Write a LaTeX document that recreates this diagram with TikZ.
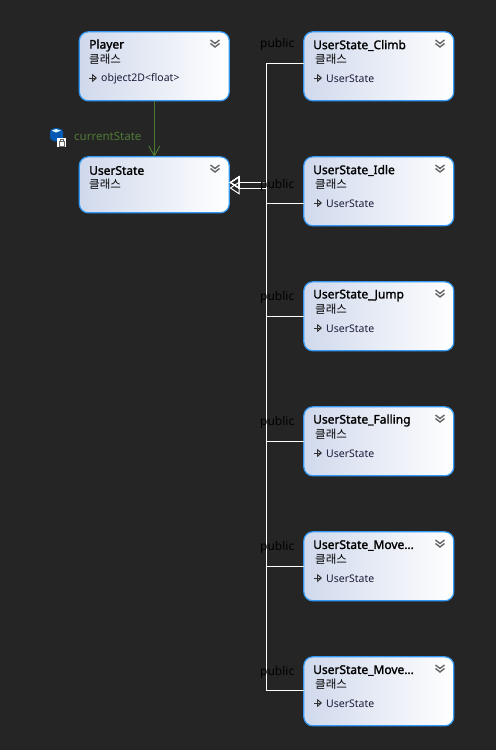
\documentclass[tikz,border=0pt]{standalone}
\usepackage{fontspec}
\setmainfont{Noto Sans}
\newfontfamily\kofont{Noto Sans CJK KR}
\newfontfamily\titlefont[FakeBold=1.6]{Noto Sans}
\usetikzlibrary{arrows.meta}
\definecolor{diagrambg}{HTML}{252525}
\definecolor{boxleft}{HTML}{D0D9EC}
\definecolor{boxedge}{HTML}{3399F5}
\definecolor{assocgreen}{HTML}{4F7A35}
\definecolor{basetext}{HTML}{1B1B3A}
\tikzset{
  classbox/.style={draw=boxedge,line width=1.2pt,rounded corners=9pt,left color=boxleft,right color=white,minimum width=150pt,inner sep=0pt,outer sep=0pt,anchor=north west},
  titletext/.style={anchor=west,inner sep=0pt,text=black,font=\titlefont\fontsize{12}{14}\selectfont},
  kindtext/.style={anchor=west,inner sep=0pt,text=black,font=\kofont\fontsize{11.5}{13}\selectfont},
  basetxt/.style={anchor=west,inner sep=0pt,text=basetext,font=\fontsize{10.5}{12}\selectfont},
  publictext/.style={anchor=west,inner sep=0pt,text=black,font=\fontsize{12}{14}\selectfont},
  inherit/.style={draw=white,line width=1pt,-{Triangle[open,length=10pt,width=13pt]}},
  chevrons/.pic={
    \draw[black!60,line width=1.4pt] (-4.5,-3.5)--(0,0)--(4.5,-3.5);
    \draw[black!60,line width=1.4pt] (-4.5,0)--(0,3.5)--(4.5,0);
  },
  basemark/.pic={
    \draw[black!80,line width=1pt,-{Straight Barb[length=4pt,width=7pt]}] (-4,0)--(4,0);
    \draw[black!80,line width=.8pt] (-1,-3)--(-1,3);
  },
}
\begin{document}
\begin{tikzpicture}[x=1pt,y=-1pt]
\fill[diagrambg] (0,0) rectangle (496,750);
\useasboundingbox (0,0) rectangle (496,750);
% left column
\node[classbox,minimum height=69pt] (Player) at (79.3,31.8) {};
\node[titletext] (PlayerTitle) at (89,45.5) {Player};
\node[kindtext] (PlayerKind) at (89,59) {클래스};
\node[basetxt] (PlayerBase) at (101,79) {object2D<float>};
\pic at (93,78) {basemark};
\pic at (215,43.5) {chevrons};
\node[classbox,minimum height=56pt] (UserState) at (79.3,156.8) {};
\node[titletext] (UserStateTitle) at (89,170.5) {UserState};
\node[kindtext] (UserStateKind) at (89,184) {클래스};
\pic at (215,168.5) {chevrons};
% field arrow
\draw[assocgreen,line width=.9pt,-{Straight Barb[length=10pt,width=11pt]}] (Player.south) -- (UserState.north);
\node[anchor=west,inner sep=0pt,text=assocgreen,font=\fontsize{11.5}{13}\selectfont] (currentLabel) at (74,136.5) {currentState};
\fill[rounded corners=1.5pt,blue!50!cyan!70!black] (50,130) -- (56,127.5) -- (63,130) -- (63,139) -- (56,142) -- (50,139) -- cycle;
\fill[white!85!cyan] (51.5,130.5) -- (56,129) -- (61,130.5) -- (56,132.5) -- cycle;
\fill[white] (57,138) rectangle (66,147);
\draw[black!60,line width=.8pt] (59.5,141) rectangle (64.5,146);
\draw[black!60,line width=.8pt] (60.5,141) -- (60.5,139) -- (63.5,139) -- (63.5,141);
% right column
\foreach \boxname/\boxtitle/\boxtop in {Climb/UserState\_Climb/31.8,Idle/UserState\_Idle/156.8,Jump/UserState\_Jump/281.8,Falling/UserState\_Falling/406.8,MoveA/UserState\_Move…/531.8,MoveB/UserState\_Move…/656.8}{
  \node[classbox,minimum height=69pt] (\boxname) at (303.8,\boxtop) {};
  \node[titletext] (\boxname Title) at (313,\boxtop+13.7) {\boxtitle};
  \node[kindtext] (\boxname Kind) at (315,\boxtop+27.2) {클래스};
  \node[basetxt] (\boxname Base) at (326,\boxtop+46.7) {UserState};
  \pic at (318,\boxtop+46.2) {basemark};
  \pic at (440,\boxtop+11.7) {chevrons};
}
% inheritance
\coordinate (upperIn) at (229.5,182.5);
\coordinate (lowerIn) at (229.5,188);
\coordinate (trunkUp) at (266.5,63);
\coordinate (trunkIdle) at (266.5,203.5);
\draw[inherit] (trunkUp -| Climb.west) -- (trunkUp) -- (trunkUp |- lowerIn) -- (lowerIn);
\draw[inherit] (trunkIdle -| Idle.west) -- (trunkIdle) -- (trunkIdle |- upperIn) -- (upperIn);
\foreach \boxname/\liftby in {Jump/.3pt,Falling/.3pt,MoveA/.3pt,MoveB/.8pt}{
  \draw[inherit] ([yshift=\liftby]\boxname.west) -- ([yshift=\liftby]\boxname.west -| trunkUp) -- (trunkUp |- upperIn) -- (upperIn);
}
\node[publictext] (ClimbPublic) at (260,44) {public};
\node[publictext] (IdlePublic) at (260,185) {public};
\node[publictext] (JumpPublic) at (260,297) {public};
\node[publictext] (FallingPublic) at (260,422) {public};
\node[publictext] (MoveAPublic) at (260,547) {public};
\node[publictext] (MoveBPublic) at (260,672) {public};
\end{tikzpicture}
\end{document}
